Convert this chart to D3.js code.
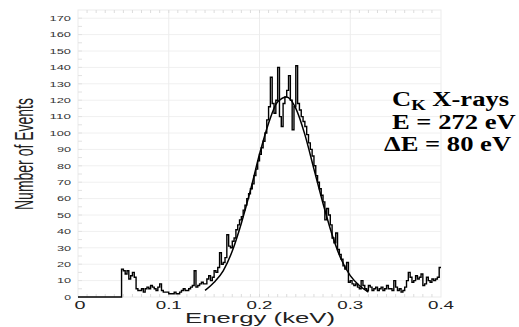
<!DOCTYPE html>
<html>
<head>
<meta charset="utf-8">
<script src="https://cdn.jsdelivr.net/npm/d3@7"></script>
<style>
  html, body { margin: 0; padding: 0; background: #fff; }
  svg { display: block; }
</style>
</head>
<body>
<div id="chart"></div>
<script>
// histogram: counts per 0.002 keV bin, from 0 to 0.4 keV
const binWidth = 0.002;
const counts = [
  0, 0, 0, 0, 0, 0, 0, 0, 0, 0, 0, 0, 0, 0, 0, 0, 0, 0, 0, 0,
  0, 0, 0, 0, 17, 16, 14, 16, 11, 13, 15, 12, 5, 4, 4, 5, 3, 5, 6, 5,
  7, 6, 5, 4, 6, 8, 4, 3, 3, 3, 2, 2, 2, 3, 2, 2, 3, 4, 5, 4,
  4, 5, 6, 7, 16, 6, 7, 8, 9, 8, 8, 11, 13, 10, 12, 16, 15, 18, 27, 20,
  21, 24, 38, 31, 30, 34, 36, 41, 44, 47, 49, 53, 56, 60, 63, 66, 69, 74, 78, 83,
  87, 91, 95, 100, 108, 116, 134, 118, 112, 120, 140, 110, 104, 118, 122, 126, 135, 120, 102, 116,
  141, 118, 114, 110, 107, 104, 99, 94, 90, 86, 80, 74, 70, 66, 62, 58, 47, 54, 50, 44,
  36, 33, 39, 29, 26, 23, 19, 17, 21, 9, 10, 8, 7, 8, 6, 5, 10, 7, 5, 4,
  7, 6, 4, 5, 6, 4, 5, 6, 4, 5, 7, 5, 5, 4, 10, 6, 4, 5, 3, 4,
  6, 10, 15, 12, 9, 10, 13, 11, 12, 14, 7, 8, 12, 10, 9, 11, 10, 11, 12, 18
];

// fitted curve
const fitEnergy = [0.14, 0.15, 0.16, 0.17, 0.18, 0.19, 0.20, 0.21, 0.22, 0.23,
                   0.24, 0.25, 0.26, 0.27, 0.28, 0.29, 0.30, 0.31, 0.32];
const fitCounts = [4, 9, 16, 28, 45, 65, 87, 106, 119, 122,
                   115, 99, 78, 57, 38, 23, 13, 7, 3];

const xTicks = [0, 0.1, 0.2, 0.3, 0.4];
const yTicks = d3.range(0, 171, 10);

const width = 519, height = 327;
const svg = d3.select('#chart').append('svg')
    .attr('width', width)
    .attr('height', height);

const x = d3.scaleLinear().domain([0, 0.4]).range([78, 441]);
const y = d3.scaleLinear().domain([0, 175]).range([297, 10]);

// plot frame and faint grid
svg.append('rect')
    .attr('x', x(0)).attr('y', y(175))
    .attr('width', x(0.4) - x(0)).attr('height', y(0) - y(175))
    .attr('fill', 'none').attr('stroke', '#ebebeb');

svg.append('g').selectAll('line')
    .data(yTicks.slice(1))
    .enter().append('line')
    .attr('x1', x(0)).attr('x2', x(0.4))
    .attr('y1', d => y(d)).attr('y2', d => y(d))
    .attr('stroke', '#f0f0f0');

svg.append('g').selectAll('line')
    .data([0.1, 0.2, 0.3])
    .enter().append('line')
    .attr('x1', d => x(d)).attr('x2', d => x(d))
    .attr('y1', y(175)).attr('y2', y(0))
    .attr('stroke', '#ececec');

// minor ticks top / bottom / left
const minorX = d3.range(0.01, 0.4, 0.01);
svg.append('g').selectAll('line')
    .data(minorX)
    .enter().append('line')
    .attr('x1', d => x(d)).attr('x2', d => x(d))
    .attr('y1', y(175)).attr('y2', y(175) + 3)
    .attr('stroke', '#dcdcdc');
svg.append('g').selectAll('line')
    .data(minorX)
    .enter().append('line')
    .attr('x1', d => x(d)).attr('x2', d => x(d))
    .attr('y1', y(0)).attr('y2', y(0) - 3)
    .attr('stroke', '#dcdcdc');
svg.append('g').selectAll('line')
    .data(d3.range(5, 175, 5))
    .enter().append('line')
    .attr('x1', x(0)).attr('x2', x(0) + 4)
    .attr('y1', d => y(d)).attr('y2', d => y(d))
    .attr('stroke', '#e2e2e2');

// y tick labels
svg.append('g').selectAll('text')
    .data(yTicks)
    .enter().append('text')
    .attr('x', 71)
    .attr('y', d => y(d) + 2.7)
    .attr('text-anchor', 'end')
    .attr('font-family', 'Liberation Sans, Arial, sans-serif')
    .attr('font-size', 7.5)
    .attr('fill', '#333')
    .attr('textLength', d => String(d).length * 7.3 - 0.5)
    .attr('lengthAdjust', 'spacingAndGlyphs')
    .text(d => d);

// x tick labels
svg.append('g').selectAll('text')
    .data(xTicks)
    .enter().append('text')
    .attr('x', d => x(d) + (d === 0 ? 2 : 0))
    .attr('y', 308.5)
    .attr('text-anchor', 'middle')
    .attr('font-family', 'Liberation Sans, Arial, sans-serif')
    .attr('font-size', 10)
    .attr('fill', '#222')
    .attr('textLength', d => d === 0 ? 11 : 26)
    .attr('lengthAdjust', 'spacingAndGlyphs')
    .text(d => d === 0 ? '0' : d.toFixed(1));

// axis titles
svg.append('text')
    .attr('x', 260).attr('y', 323)
    .attr('text-anchor', 'middle')
    .attr('font-family', 'Liberation Sans, Arial, sans-serif')
    .attr('font-size', 14)
    .attr('fill', '#222')
    .attr('textLength', 150)
    .attr('lengthAdjust', 'spacingAndGlyphs')
    .text('Energy (keV)');

svg.append('text')
    .attr('transform', 'translate(33,154) rotate(-90)')
    .attr('text-anchor', 'middle')
    .attr('font-family', 'Liberation Sans, Arial, sans-serif')
    .attr('font-size', 26)
    .attr('fill', '#222')
    .attr('textLength', 112)
    .attr('lengthAdjust', 'spacingAndGlyphs')
    .text('Number of Events');

// histogram as a step line
const histPts = counts.map((c, i) => [i * binWidth, c]);
histPts.push([counts.length * binWidth, counts[counts.length - 1]]);
const stepLine = d3.line()
    .x(d => x(d[0]))
    .y(d => y(d[1]))
    .curve(d3.curveStepAfter);
svg.append('path')
    .datum(histPts)
    .attr('d', stepLine)
    .attr('fill', 'none')
    .attr('stroke', '#000')
    .attr('stroke-width', 1.4);

// fitted curve
const fitLine = d3.line()
    .x((d, i) => x(fitEnergy[i]))
    .y(d => y(d))
    .curve(d3.curveMonotoneX);
svg.append('path')
    .datum(fitCounts)
    .attr('d', fitLine)
    .attr('fill', 'none')
    .attr('stroke', '#000')
    .attr('stroke-width', 1.5);

// annotation
const note = svg.append('g')
    .attr('transform', 'translate(392,0) scale(1.33,1)')
    .attr('font-family', 'Liberation Serif, Times New Roman, serif')
    .attr('font-weight', 'bold')
    .attr('font-size', 20)
    .attr('fill', '#000');

const line1 = note.append('text').attr('x', 0).attr('y', 106);
line1.append('tspan').text('C');
line1.append('tspan').attr('font-size', 14).attr('dy', 4).text('K');
line1.append('tspan').attr('dy', -4).text(' X-rays');

note.append('text').attr('x', 0).attr('y', 129).text('E = 272 eV');
note.append('text').attr('x', -6).attr('y', 151).text('\u0394E = 80 eV');
</script>
</body>
</html>
